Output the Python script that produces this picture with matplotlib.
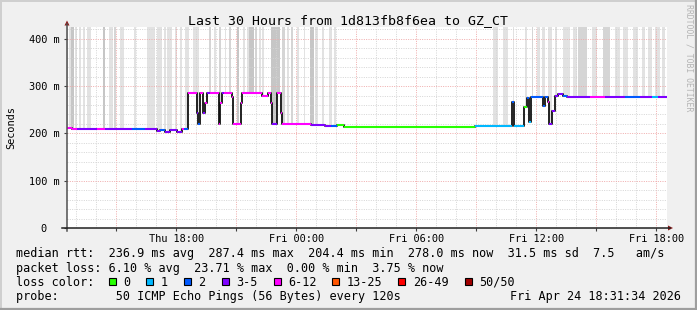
import numpy as np
import matplotlib
matplotlib.use("Agg")
import matplotlib.pyplot as plt
from matplotlib.patches import Rectangle, Polygon
from matplotlib.lines import Line2D
from matplotlib.ticker import MultipleLocator

# ---------------- data ----------------
title = "Last 30 Hours from 1d813fb8f6ea to GZ_CT"
t_start, t_end = 12.526, 42.526          # hours since Thu 00:00
tick_hours = [18, 24, 30, 36, 42]
tick_labels = ["Thu 18:00", "Fri 00:00", "Fri 06:00", "Fri 12:00", "Fri 18:00"]
ytick_vals = [0, 100, 200, 300, 400]
ytick_labels = ["0  ", "100 m", "200 m", "300 m", "400 m"]
y_max = 425

# median rtt (ms) as steps: start hour, value, loss class
med_t = [12.53, 12.76, 13.01, 14.01, 14.43, 15.76, 16.43, 17.01, 17.18, 17.43,
         17.68, 18.01, 18.26, 18.38, 18.56, 19.01, 19.08, 19.18, 19.34, 19.43,
         19.51, 19.68, 20.13, 20.20, 20.26, 20.37, 20.76, 20.81, 21.21, 21.26,
         22.26, 22.59, 22.71, 22.79, 23.01, 23.21, 23.29, 24.73, 25.43, 25.73,
         26.03, 26.38, 32.93, 34.76, 34.89, 35.39, 35.51, 35.64, 35.71, 36.34,
         36.43, 36.58, 36.63, 36.80, 36.93, 37.08, 37.34, 37.51, 38.68, 39.43,
         40.43, 41.18, 41.78, 42.08]
med_ms = [211, 209, 209, 209, 209, 209, 209, 206, 207, 204,
          207, 204, 209, 209, 286, 243, 219, 286, 243, 264,
          286, 286, 219, 264, 286, 286, 278, 219, 264, 286,
          279, 286, 264, 219, 286, 243, 219, 218, 216.5, 216.5,
          218, 214.5, 216, 266, 216, 255, 275, 225, 276, 257,
          276, 267, 219, 248, 279, 283, 280, 278, 278, 278,
          278, 276, 278, 278]
med_loss = [4, 4, 3, 4, 3, 2, 3, 3, 2, 3,
            3, 3, 4, 2, 4, 3, 2, 4, 3, 4,
            3, 4, 4, 4, 3, 4, 4, 4, 4, 4,
            4, 4, 4, 3, 4, 4, 4, 3, 3, 2,
            0, 0, 1, 2, 1, 0, 2, 1, 2, 2,
            2, 4, 3, 3, 3, 3, 2, 3, 4, 3,
            2, 3, 1, 3]

# smoke stripes (ping spread reaching above the chart): start, end, shade
smoke_t0 = [12.53, 12.61, 12.74, 12.91, 13.14, 13.31, 13.53, 14.31, 14.61, 14.86,
            15.19, 15.86, 16.53, 17.03, 17.36, 17.53, 17.94, 18.19, 18.41, 18.83,
            19.61, 19.86, 20.11, 20.41, 20.61, 21.03, 21.33, 21.53, 21.64, 21.91,
            22.11, 22.28, 22.74, 23.28, 23.54, 23.74, 24.03, 24.36, 24.69, 24.94,
            25.28, 25.61, 25.86,
            33.84, 34.34, 34.84, 35.43, 35.76, 36.01, 36.26, 36.59, 36.93, 37.34,
            37.84, 38.09, 38.76, 39.34, 39.93, 40.34, 40.84, 41.26, 41.59, 41.93,
            42.26]
smoke_t1 = [12.58, 12.71, 12.86, 13.01, 13.21, 13.44, 13.71, 14.44, 14.81, 14.98,
            15.38, 15.98, 16.94, 17.28, 17.48, 17.78, 18.03, 18.28, 18.64, 19.11,
            19.71, 19.98, 20.21, 20.49, 20.73, 21.11, 21.41, 21.61, 21.86, 22.03,
            22.21, 22.38, 23.19, 23.41, 23.61, 23.81, 24.14, 24.44, 24.86, 25.08,
            25.36, 25.78, 25.99,
            34.09, 34.59, 34.89, 35.51, 35.84, 36.18, 36.43, 36.76, 37.01, 37.68,
            38.01, 38.51, 39.01, 39.68, 40.18, 40.59, 41.09, 41.43, 41.76, 42.18,
            42.43]
smoke_shade = ["m", "l", "d", "l", "l", "l", "l", "d", "l", "m",
               "l", "l", "l", "l", "l", "l", "l", "l", "l", "l",
               "m", "l", "m", "l", "m", "d", "l", "l", "d", "m",
               "l", "l", "d", "m", "l", "m", "l", "l", "d", "l",
               "l", "l", "l",
               "l", "l", "l", "l", "m", "l", "l", "l", "l", "l",
               "l", "m", "l", "m", "l", "l", "l", "l", "l", "l",
               "l"]

loss_labels = ["0", "1", "2", "3-5", "6-12", "13-25", "26-49", "50/50"]
loss_colors = ["#26ff00", "#00b8ff", "#0059ff", "#7e00ff", "#ff00ff",
               "#ff5500", "#ff0000", "#a10000"]

legend_rows = [
    "median rtt:  236.9 ms avg  287.4 ms max  204.4 ms min  278.0 ms now  31.5 ms sd  7.5   am/s",
    "packet loss: 6.10 % avg  23.71 % max  0.00 % min  3.75 % now",
]
probe_text = "probe:        50 ICMP Echo Pings (56 Bytes) every 120s"
date_text = "Fri Apr 24 18:31:34 2026"
ylabel = "Seconds"
watermark = "RRDTOOL / TOBI OETIKER"

# ---------------- style ----------------
W, H, DPI = 697, 310, 100
MONO = "DejaVu Sans Mono"
shade_col = {"l": "#e2e2e2", "m": "#d5d5d5", "d": "#c6c6c6"}
BACK = "#f0f0f0"

fig = plt.figure(figsize=(W / DPI, H / DPI), dpi=DPI, facecolor=BACK)

# overlay axes in pixel coords (y downward)
ov = fig.add_axes([0, 0, 1, 1], zorder=5)
ov.set_xlim(0, W)
ov.set_ylim(H, 0)
ov.axis("off")
ov.patch.set_alpha(0)

# plot axes
L, R, T, B = 67, 667, 27, 228
ax = fig.add_axes([L / W, 1 - B / H, (R - L) / W, (B - T) / H], zorder=2)
ax.set_facecolor("white")
ax.set_xlim(t_start, t_end)
ax.set_ylim(0, y_max)
for s in ax.spines.values():
    s.set_visible(False)

med_t_arr = np.array(med_t)
med_ms_arr = np.array(med_ms, dtype=float)


def med_at(t):
    i = np.searchsorted(med_t_arr, t, side="right") - 1
    return med_ms_arr[max(i, 0)]


# smoke
for t0, t1, sh in zip(smoke_t0, smoke_t1, smoke_shade):
    xs = sorted(set([t0, t1] + [b for b in med_t if t0 < b < t1]))
    ys = [med_at(x) for x in xs]
    ax.fill_between(xs, ys, y_max + 20, step="post", color=shade_col[sh],
                    lw=0, zorder=0.5)

# grid
ax.set_axisbelow(False)
major_x = np.arange(15, 43, 3)
ax.set_xticks(major_x)
ax.set_xticklabels([tick_labels[tick_hours.index(h)] if h in tick_hours else ""
                    for h in major_x])
ax.xaxis.set_minor_locator(MultipleLocator(1))
ax.set_yticks(ytick_vals)
ax.set_yticklabels(ytick_labels)
ax.yaxis.set_minor_locator(MultipleLocator(20))
ax.grid(which="minor", color="#d4d4d4", lw=0.7, ls=(0, (1, 1.4)))
ax.grid(which="major", color="#efaaaa", lw=0.7, ls=(0, (1, 1.4)))
ax.tick_params(which="both", length=0)
ax.tick_params(axis="x", which="major", length=2, width=0.8, color="#404040",
               pad=2.2, labelsize=7.4, labelcolor="black")
ax.tick_params(axis="y", which="major", length=2, width=0.8, color="#404040",
               pad=3.2, labelsize=7.4, labelcolor="black")
for lab in ax.get_xticklabels() + ax.get_yticklabels():
    lab.set_family(MONO)

# median line
xs_step = list(med_t) + [t_end]
ys_step = list(med_ms) + [med_ms[-1]]
ax.step(xs_step, ys_step, where="post", color="#111111", lw=1.3, zorder=3)
for i in range(len(med_t)):
    t1 = med_t[i + 1] if i + 1 < len(med_t) else t_end
    ax.hlines(med_ms[i], med_t[i], t1, color=loss_colors[med_loss[i]],
              lw=1.5, zorder=4, capstyle="butt")

# axes lines and arrows
ov.add_line(Line2D([L, L], [B + 3, T - 3], color="#505050", lw=1.1))
ov.add_line(Line2D([L - 5, R + 3], [B, B], color="#202020", lw=1.1))
ov.add_patch(Polygon([[L - 2.5, 25.5], [L + 2.5, 25.5], [L, 20.5]], closed=True,
                     color="#8b1a1a", lw=0))
ov.add_patch(Polygon([[R + 1, B - 2.5], [R + 1, B + 2.5], [R + 6, B]], closed=True,
                     color="#8b1a1a", lw=0))

# border (3D frame)
ov.add_line(Line2D([0.5, W - 1], [0.5, 0.5], color="#cfcfcf", lw=1.4))
ov.add_line(Line2D([0.5, 0.5], [0.5, H - 1], color="#cfcfcf", lw=1.4))
ov.add_line(Line2D([1, W], [H - 1, H - 1], color="#9e9e9e", lw=1.6))
ov.add_line(Line2D([W - 1, W - 1], [1, H], color="#9e9e9e", lw=1.6))

# texts
ov.text(W / 2, 24, title, ha="center", va="baseline", family=MONO, fontsize=9.5)
ov.text(11, (T + B) / 2, ylabel, ha="center", va="center", rotation=90,
        family=MONO, fontsize=7.4)
ov.text(688.5, 4, watermark, ha="center", va="top", rotation=270,
        family=MONO, fontsize=5.9, color="#b4b4b4")

CW = 7.1
X0 = 16
base = [257.5, 271.7, 285.9, 300.0]
for r, s in enumerate(legend_rows):
    ov.text(X0, base[r], s, ha="left", va="baseline", family=MONO, fontsize=8.5)
ov.text(X0, base[2], "loss color:", ha="left", va="baseline", family=MONO,
        fontsize=8.5)
cur = 13.0
for lab, col in zip(loss_labels, loss_colors):
    sx = X0 + cur * CW
    ov.add_patch(Rectangle((sx + 0.5, base[2] - 8.2), 7.0, 7.5, facecolor=col,
                           edgecolor="black", lw=0.8))
    lx = cur + 2.1
    ov.text(X0 + lx * CW, base[2], lab, ha="left", va="baseline", family=MONO,
            fontsize=8.5)
    cur = lx + len(lab) + 2.2
ov.text(X0, base[3], probe_text, ha="left", va="baseline", family=MONO,
        fontsize=8.5)
ov.text(681, base[3], date_text, ha="right", va="baseline", family=MONO,
        fontsize=8.5)

fig.savefig("out.png", dpi=DPI, facecolor=BACK)
